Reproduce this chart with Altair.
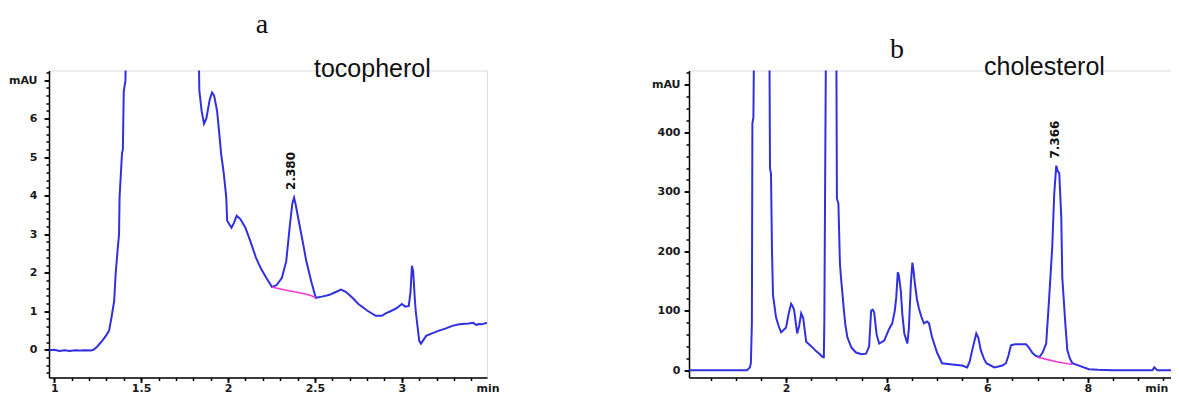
import altair as alt
import pandas as pd

# ---------------- panel a : tocopherol ----------------
a_time = [0.97, 1.00, 1.03, 1.06, 1.09, 1.12, 1.15, 1.18, 1.21, 1.225,
          1.245, 1.26, 1.276, 1.30, 1.316, 1.33, 1.345, 1.354, 1.365, 1.373,
          1.376, 1.39, 1.395, 1.40, 1.41, 1.415, 1.62, 1.826, 1.833, 1.835,
          1.848, 1.862, 1.875, 1.895, 1.908, 1.92, 1.937, 1.95, 1.96, 1.975,
          1.99, 1.995, 2.02, 2.035, 2.05, 2.07, 2.10, 2.13, 2.16, 2.19,
          2.22, 2.253, 2.28, 2.31, 2.335, 2.355, 2.37, 2.38, 2.39, 2.41,
          2.43, 2.45, 2.48, 2.505, 2.54, 2.58, 2.62, 2.65, 2.68, 2.72,
          2.75, 2.80, 2.85, 2.885, 2.91, 2.935, 2.97, 3.00, 3.02, 3.04,
          3.05, 3.058, 3.065, 3.075, 3.08, 3.10, 3.11, 3.14, 3.17, 3.21,
          3.25, 3.29, 3.33, 3.385, 3.41, 3.43, 3.44, 3.46, 3.49]
a_mau = [-0.01, 0.00, -0.03, -0.01, -0.03, -0.01, -0.02, -0.01, -0.02, 0.00,
         0.07, 0.15, 0.23, 0.38, 0.50, 0.85, 1.27, 2.00, 2.60, 3.00,
         3.96, 5.10, 5.20, 6.70, 7.00, 9.0, 30.0, 9.0, 7.30, 6.73,
         6.20, 5.87, 6.00, 6.50, 6.68, 6.60, 6.20, 5.60, 5.10, 4.60,
         3.95, 3.35, 3.17, 3.30, 3.48, 3.40, 3.17, 2.80, 2.40, 2.10,
         1.87, 1.63, 1.68, 1.87, 2.30, 3.20, 3.80, 3.95, 3.75, 3.27,
         2.80, 2.31, 1.75, 1.35, 1.38, 1.42, 1.50, 1.56, 1.50, 1.33,
         1.19, 1.02, 0.88, 0.88, 0.95, 1.00, 1.08, 1.19, 1.12, 1.14,
         1.50, 2.18, 2.05, 1.30, 1.00, 0.23, 0.16, 0.36, 0.42, 0.49,
         0.55, 0.62, 0.66, 0.68, 0.70, 0.64, 0.67, 0.66, 0.70]
a_base_time = [2.253, 2.30, 2.35, 2.41, 2.45, 2.48, 2.505]
a_base_mau = [1.63, 1.58, 1.53, 1.48, 1.44, 1.40, 1.35]
a_peak_time = [2.365]
a_peak_mau = [4.15]
a_peak_text = ["2.380"]
a_letter = ["a"]
a_name = ["tocopherol"]

# ---------------- panel b : cholesterol ----------------
b_time = [0.07, 0.5, 1.0, 1.22, 1.28, 1.30, 1.32, 1.33, 1.35, 1.36,
          1.5, 1.66, 1.68, 1.70, 1.72, 1.74, 1.80, 1.85, 1.90, 1.95,
          2.00, 2.05, 2.10, 2.13, 2.16, 2.22, 2.26, 2.30, 2.34, 2.40,
          2.52, 2.60, 2.66, 2.73, 2.75, 2.76, 2.79, 2.90, 3.00, 3.01,
          3.04, 3.07, 3.09, 3.12, 3.15, 3.18, 3.22, 3.30, 3.39, 3.50,
          3.59, 3.65, 3.69, 3.72, 3.75, 3.80, 3.85, 3.95, 4.05, 4.11,
          4.16, 4.19, 4.22, 4.24, 4.28, 4.31, 4.35, 4.41, 4.44, 4.48,
          4.51, 4.53, 4.56, 4.60, 4.64, 4.69, 4.74, 4.80, 4.84, 4.90,
          5.00, 5.10, 5.30, 5.50, 5.60, 5.65, 5.70, 5.78, 5.82, 5.87,
          5.93, 5.98, 6.14, 6.30, 6.37, 6.42, 6.47, 6.55, 6.65, 6.77,
          6.83, 6.89, 6.95, 7.03, 7.10, 7.17, 7.23, 7.29, 7.33, 7.37,
          7.40, 7.43, 7.47, 7.49, 7.55, 7.59, 7.64, 7.69, 7.82, 8.02,
          8.20, 8.48, 9.00, 9.28, 9.32, 9.38, 10.0]
b_mau = [0, 0, 0, 0, 5, 12, 80, 415, 425, 520,
         1500, 700, 340, 330, 200, 126, 89, 75, 64, 68,
         72, 95, 112, 108, 101, 62, 75, 96, 88, 48,
         39, 32, 28, 22, 22, 80, 520, 1500, 520, 289,
         280, 180, 157, 129, 100, 75, 55, 38, 30, 27,
         28, 40, 100, 102, 98, 60, 45, 50, 70, 79,
         100, 123, 165, 160, 134, 95, 62, 45, 70, 146,
         181, 170, 146, 120, 104, 90, 79, 82, 79, 56,
         30, 12, 10, 8, 5, 15, 34, 62, 55, 34,
         20, 12, 5, 8, 12, 25, 42, 44, 44, 44,
         38, 30, 25, 22, 30, 45, 123, 207, 297, 344,
         335, 331, 257, 156, 79, 34, 20, 12, 8, 2,
         1, 0, 0, 0, 5, 0, 0]
b_base_time = [7.00, 7.20, 7.40, 7.60, 7.69]
b_base_mau = [22, 18, 14, 11, 10]
b_peak_time = [7.35]
b_peak_mau = [356]
b_peak_text = ["7.366"]
b_letter = ["b"]
b_name = ["cholesterol"]

# axis ticks: major (labelled) and minor, plus the unit label
a_x_major = [1, 1.5, 2, 2.5, 3]
a_x_minor = [round(1.0 + 0.1 * i, 2) for i in range(25)]
a_y_major = [0, 1, 2, 3, 4, 5, 6, 7]
a_y_minor = [round(-0.6 + 0.2 * i, 2) for i in range(40)]
b_x_major = [2, 4, 6, 8]
b_x_minor = [0.5 * i for i in range(1, 20)]
b_y_major = [0, 100, 200, 300, 400, 480]
b_y_minor = [20 * i for i in range(26)]
a_unit_x = [3.43]
b_unit_x = [9.14]
unit_text = ["min"]

BLUE = "#3030e0"
PINK = "#f03cd2"
AX = "#000000"
LABEL_FONT = "DejaVu Sans"


def major_axis(values, orient, label_expr, pad):
    return alt.Axis(
        values=values, orient=orient, labelExpr=label_expr, title=None, grid=False,
        domainColor=AX, domainWidth=1.5, ticks=True, tickColor=AX, tickWidth=1.8,
        tickSize=5, labelFont=LABEL_FONT, labelFontSize=11, labelFontWeight="bold",
        labelColor="#1a1a1a", labelOverlap=False, labelFlush=False,
        labelBound=False, labelPadding=pad)


def minor_axis(values, orient):
    return alt.Axis(
        values=values, orient=orient, title=None, grid=False, domain=False,
        labels=False, ticks=True, tickColor=AX, tickWidth=1.5, tickSize=3)


def panel(times, vals, bt, bv, pt, pv, ptext, letter, name, unit_x, unit_align,
          xdom, ydom, xmaj, ymaj, xmin, ymin, w, h, letter_xy, name_xy, unit_dy):
    xs = alt.Scale(domain=xdom, nice=False, zero=False)
    ys = alt.Scale(domain=ydom, nice=False, zero=False)
    line = alt.Chart(pd.DataFrame({"t": times, "v": vals})).mark_line(
        color=BLUE, strokeWidth=2, clip=True).encode(
        x=alt.X("t:Q", scale=xs, axis=xmaj), y=alt.Y("v:Q", scale=ys, axis=ymaj), order="t:Q")
    base = alt.Chart(pd.DataFrame({"t": bt, "v": bv})).mark_line(
        color=PINK, strokeWidth=1.6, clip=True).encode(
        x=alt.X("t:Q", scale=xs, axis=xmin), y=alt.Y("v:Q", scale=ys, axis=ymin))
    peak = alt.Chart(pd.DataFrame({"t": pt, "v": pv, "lab": ptext})).mark_text(
        angle=270, align="left", baseline="middle", font=LABEL_FONT,
        fontSize=12, fontWeight="bold", color="#111").encode(
        x=alt.X("t:Q", scale=xs, axis=None), y=alt.Y("v:Q", scale=ys, axis=None), text="lab:N")
    unit = alt.Chart(pd.DataFrame({"t": unit_x, "s": unit_text})).mark_text(
        align=unit_align, baseline="top", font=LABEL_FONT, fontSize=11,
        fontWeight="bold", color="#1a1a1a").encode(
        x=alt.X("t:Q", scale=xs, axis=None), y=alt.value(h + unit_dy), text="s:N")
    let = alt.Chart(pd.DataFrame({"s": letter})).mark_text(
        font="Liberation Serif", fontSize=28, align="center", baseline="alphabetic",
        color="#111").encode(x=alt.value(letter_xy[0]), y=alt.value(letter_xy[1]), text="s:N")
    nm = alt.Chart(pd.DataFrame({"s": name})).mark_text(
        font="Liberation Sans", fontSize=25, align="left", baseline="alphabetic",
        color="#111").encode(x=alt.value(name_xy[0]), y=alt.value(name_xy[1]), text="s:N")
    return alt.layer(line, base, peak, unit, let, nm).resolve_axis(
        x="independent", y="independent").properties(width=w, height=h)


xa = major_axis(a_x_major, "bottom", "format(datum.value, '~g')", 0)
ya = major_axis(a_y_major, "left", "datum.value == 7 ? 'mAU' : format(datum.value, 'd')", 7)
xb = major_axis(b_x_major, "bottom", "format(datum.value, 'd')", 0)
yb = major_axis(b_y_major, "left", "datum.value == 480 ? 'mAU' : format(datum.value, 'd')", 4)

chart_a = panel(a_time, a_mau, a_base_time, a_base_mau, a_peak_time, a_peak_mau,
                a_peak_text, a_letter, a_name, a_unit_x, "left",
                [0.97, 3.49], [-0.72, 7.25], xa, ya,
                minor_axis(a_x_minor, "bottom"), minor_axis(a_y_minor, "left"),
                438, 307, (213, -38), (265, 6), 5)
chart_b = panel(b_time, b_mau, b_base_time, b_base_mau, b_peak_time, b_peak_mau,
                b_peak_text, b_letter, b_name, b_unit_x, "left",
                [0.07, 9.79], [-12, 504], xb, yb,
                minor_axis(b_x_minor, "bottom"), minor_axis(b_y_minor, "left"),
                489, 307, (208, -13), (295, 4), 5)

chart = alt.hconcat(chart_a, chart_b, spacing=149).properties(
    padding={"left": -1, "top": 1.5, "right": -8, "bottom": 2}
).configure_view(stroke=None).configure(background="white")

chart.save("out.html", embed_options={"renderer": "svg", "actions": False})
